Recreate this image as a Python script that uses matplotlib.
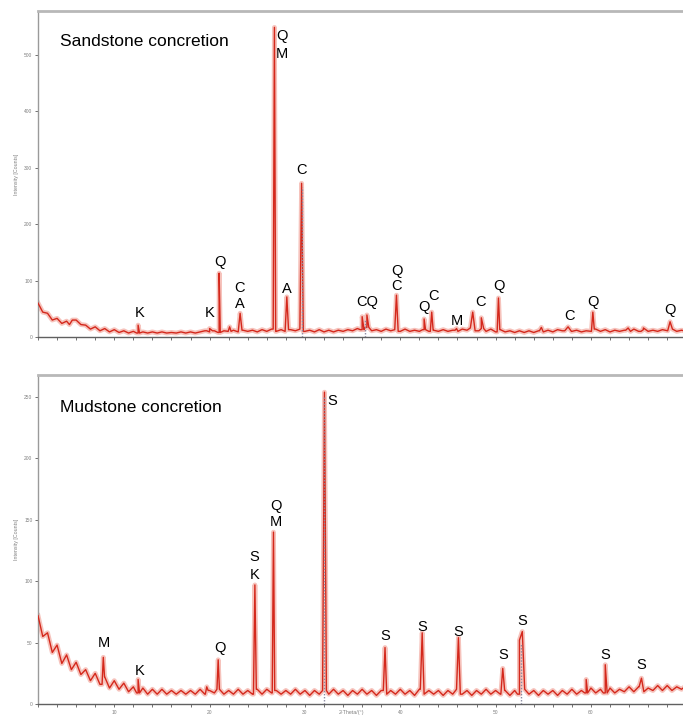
import numpy as np
import matplotlib
matplotlib.use("Agg")
import matplotlib.pyplot as plt
from matplotlib.ticker import MultipleLocator

plt.rcParams['font.family'] = ['Liberation Sans', 'DejaVu Sans']

# ---------------- data: Sandstone concretion ----------------
sand_start = 2.0
sand_step = 0.5
sand_baseline = [60, 44, 42, 30, 33, 24, 28, 22, 30, 22,
                 21, 14, 18, 11, 15, 9, 13, 8, 11, 7,
                 10, 7, 9, 7, 9, 7, 9, 7, 8, 7,
                 9, 7, 9, 7, 9, 11, 9, 11, 8, 11,
                 10, 12, 9, 12, 10, 12, 9, 13, 10, 14,
                 10, 13, 10, 13, 11, 14, 10, 12, 9, 13,
                 9, 12, 9, 12, 10, 13, 11, 15, 13, 17,
                 11, 13, 10, 14, 11, 13, 10, 14, 10, 12,
                 10, 13, 10, 12, 10, 13, 10, 12, 10, 14,
                 12, 16, 11, 15, 10, 14, 9, 13, 9, 11,
                 8, 11, 8, 11, 8, 11, 9, 12, 9, 13,
                 11, 15, 10, 12, 9, 11, 10, 14, 10, 13,
                 9, 12, 10, 12, 10, 14, 10, 13, 10, 12,
                 10, 13, 11, 14, 10, 12, 10]
sand_peak_pos = [5.6, 12.5, 20.0, 22.1, 21.0, 23.2, 26.8, 28.1, 29.65, 36.0, 36.5, 39.6,
                 42.5, 43.3, 45.9, 47.6, 48.5, 50.3, 54.8, 57.6, 60.2, 63.9, 65.5, 68.3]
sand_peak_height = [30, 21, 15, 18, 113, 42, 548, 71, 272, 36, 39, 74,
                    32, 44, 15, 44, 34, 69, 17, 18, 44, 16, 16, 27]
sand_peak_halfwidth = [0.3, 0.15, 0.3, 0.15, 0.12, 0.2, 0.13, 0.18, 0.18, 0.2, 0.2, 0.18,
                       0.15, 0.15, 0.15, 0.25, 0.25, 0.14, 0.2, 0.35, 0.15, 0.25, 0.25, 0.25]
sand_labels = [("Q", 27.58, 533), ("M", 27.58, 501), ("C", 29.68, 296), ("Q", 21.05, 133),
               ("C", 23.16, 87), ("A", 23.16, 58), ("A", 28.1, 85), ("K", 12.63, 42),
               ("K", 20.0, 42), ("CQ", 36.5, 62), ("Q", 39.6, 117), ("C", 39.6, 90),
               ("Q", 42.5, 53), ("C", 43.5, 73), ("M", 45.9, 28), ("C", 48.4, 62),
               ("Q", 50.3, 90), ("C", 57.8, 37), ("Q", 60.2, 62), ("Q", 68.3, 48)]
sand_sticks_pos = [29.65, 36.3]
sand_sticks_height = [265, 30]

# ---------------- data: Mudstone concretion ----------------
mud_start = 2.0
mud_step = 0.5
mud_baseline = [72, 55, 58, 42, 48, 33, 40, 28, 34, 24,
                28, 19, 25, 16, 22, 13, 19, 12, 17, 10,
                14, 9, 13, 8, 12, 8, 12, 8, 11, 8,
                11, 8, 11, 8, 12, 8, 11, 9, 12, 8,
                11, 8, 12, 8, 11, 8, 12, 8, 12, 9,
                11, 8, 11, 8, 12, 8, 11, 7, 11, 8,
                11, 8, 12, 8, 11, 7, 11, 8, 12, 8,
                11, 7, 11, 8, 11, 8, 12, 8, 11, 7,
                12, 8, 11, 8, 11, 7, 11, 8, 12, 8,
                11, 7, 11, 8, 12, 8, 11, 8, 11, 7,
                11, 8, 12, 8, 11, 7, 11, 8, 11, 7,
                11, 8, 12, 8, 11, 9, 13, 9, 12, 9,
                13, 9, 12, 10, 14, 10, 14, 10, 13, 11,
                15, 11, 15, 11, 14, 12, 15]
mud_peak_pos = [8.85, 12.5, 19.7, 20.9, 24.75, 26.7, 32.05, 38.4, 42.3, 46.1, 50.75,
                52.5, 52.8, 59.5, 61.5, 65.3]
mud_peak_height = [38, 20, 14, 36, 97, 140, 254, 46, 58, 54, 29, 52, 59, 20, 32, 21]
mud_peak_halfwidth = [0.13, 0.15, 0.15, 0.13, 0.15, 0.13, 0.2, 0.18, 0.2, 0.2, 0.2,
                      0.2, 0.25, 0.15, 0.2, 0.25]
mud_labels = [("S", 32.84, 247), ("Q", 26.95, 161), ("M", 26.95, 148), ("S", 24.7, 120),
              ("K", 24.7, 105), ("Q", 21.05, 46), ("M", 8.95, 50), ("K", 12.63, 27),
              ("S", 38.4, 55), ("S", 42.3, 63), ("S", 46.1, 59), ("S", 50.8, 40),
              ("S", 52.8, 68), ("S", 61.5, 40), ("S", 65.3, 32)]
mud_sticks_pos = [32.05, 52.7]
mud_sticks_height = [250, 50]

x_ticks = [10, 20, 30, 40, 50, 60]
sand_y_ticks = [0, 100, 200, 300, 400, 500]
mud_y_ticks = [0, 50, 100, 150, 200, 250]


def build_pattern(start, step, base, pos, height, hw):
    base = np.asarray(base, dtype=float)
    xs = start + step * np.arange(len(base))
    px = list(xs)
    py = list(base)
    for p, h, w in zip(pos, height, hw):
        for dx, val in ((-w, None), (0.0, h), (w, None)):
            xx = p + dx
            if val is None:
                idx = int(np.argmin(np.abs(xs - xx)))
                val = base[idx]
            px.append(xx)
            py.append(val)
    px = np.array(px)
    py = np.array(py)
    order = np.argsort(px, kind="stable")
    px, py = px[order], py[order]
    keep = np.ones(len(px), dtype=bool)
    for p, w in zip(pos, hw):
        inside = (px > p - w + 1e-9) & (px < p + w - 1e-9) & ~np.isclose(px, p)
        keep &= ~inside
    return px[keep], py[keep]


fig = plt.figure(figsize=(6.83, 7.19), dpi=100)
ax1 = fig.add_axes([38 / 683, 1 - 337 / 719, 1 - 38 / 683 + 0.002, (337 - 11) / 719])
ax2 = fig.add_axes([38 / 683, 1 - 704 / 719, 1 - 38 / 683 + 0.002, (704 - 375) / 719])

panels = [
    (ax1, sand_start, sand_step, sand_baseline, sand_peak_pos, sand_peak_height,
     sand_peak_halfwidth, sand_labels, sand_sticks_pos, sand_sticks_height,
     (0, 577), sand_y_ticks),
    (ax2, mud_start, mud_step, mud_baseline, mud_peak_pos, mud_peak_height,
     mud_peak_halfwidth, mud_labels, mud_sticks_pos, mud_sticks_height,
     (0, 268), mud_y_ticks),
]

for (ax, st, sp, base, pos, hgt, hw, labels, spos, sh, ylim, yt) in panels:
    px, py = build_pattern(st, sp, base, pos, hgt, hw)
    ax.plot(px, py, color="#ec7a6c", lw=3.5, alpha=0.45, solid_joinstyle="round", zorder=2)
    ax.plot(px, py, color="#d4281c", lw=1.0, zorder=3)
    ax.vlines(spos, 0, sh, colors="#8a8aa0", linestyles=(0, (1, 1.2)), lw=1.0, zorder=4)
    for t, x, y in labels:
        ax.text(x, y, t, fontsize=10.5, ha="center", va="center", color="black", zorder=5)
    ax.set_xlim(2, 69.8)
    ax.set_ylim(*ylim)
    ax.set_xticks(x_ticks)
    ax.xaxis.set_minor_locator(MultipleLocator(2))
    ax.set_yticks(yt)
    ax.tick_params(axis="both", which="both", direction="out", labelsize=3.5,
                   colors="#707070", labelcolor="#808080", length=2.5, width=0.7, pad=1.5)
    ax.tick_params(axis="x", which="minor", length=2)
    ax.set_ylabel("Intensity [Counts]", fontsize=3.8, color="#808080", labelpad=4)
    ax.spines["right"].set_visible(False)
    ax.spines["left"].set_color("#9a9a9a")
    ax.spines["bottom"].set_color("#606060")
    ax.spines["top"].set_color("#b8b8b8")
    ax.spines["top"].set_linewidth(2.0)
    ax.spines["left"].set_linewidth(1.0)
    ax.spines["bottom"].set_linewidth(1.0)

ax1.text((60 - 38) / (683 - 38), 1 - (42 - 11) / (337 - 11),
         "Sandstone concretion", transform=ax1.transAxes, fontsize=12.5, ha="left", va="center")
ax2.text((60 - 38) / (683 - 38), 1 - (407 - 375) / (704 - 375),
         "Mudstone concretion", transform=ax2.transAxes, fontsize=12.5, ha="left", va="center")
ax1.tick_params(axis="x", labelbottom=False)
ax2.set_xlabel("2-Theta/(°)", fontsize=3.8, color="#808080")
ax2.xaxis.set_label_coords(0.485, -0.018)

fig.savefig("out.png", dpi=100)
